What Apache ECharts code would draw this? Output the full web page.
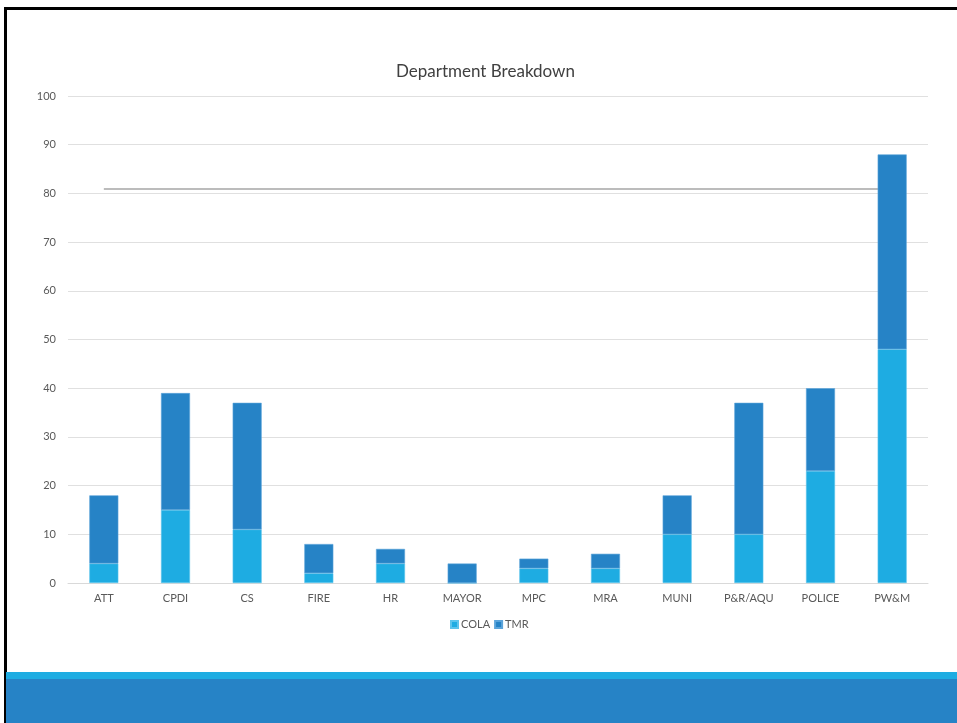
<!DOCTYPE html>
<html><head><meta charset="utf-8">
<script src="https://cdn.jsdelivr.net/npm/echarts@6/dist/echarts.min.js"></script>
<style>
html,body{margin:0;padding:0;width:957px;height:723px;overflow:hidden;background:#fff;}
#frame{position:absolute;left:4px;top:7px;width:960px;height:730px;border-left:3px solid #000;border-top:3px solid #000;box-sizing:border-box;}
#band1{position:absolute;left:6px;top:672px;width:951px;height:7px;background:#1EACE2;}
#band2{position:absolute;left:6px;top:679px;width:951px;height:44px;background:#2683C6;}
#chart{position:absolute;left:0;top:0;width:957px;height:723px;}
</style></head>
<body>
<div id="chart"></div>
<div id="frame"></div>
<div id="band1"></div>
<div id="band2"></div>
<script>
const categories = ['ATT','CPDI','CS','FIRE','HR','MAYOR','MPC','MRA','MUNI','P&R/AQU','POLICE','PW&M'];
const cola = [4,15,11,2,4,0,3,3,10,10,23,48];
const tmr = [14,24,26,6,3,4,2,3,8,27,17,40];
const refValue = 81;
const yTicks = {min:0,max:100,interval:10};

const chart = echarts.init(document.getElementById('chart'));
const font = 'Lato, "Open Sans", sans-serif';
chart.setOption({
  animation:false,
  title:{text:'Department Breakdown',left:391,top:58,textStyle:{fontFamily:font,fontSize:17,fontWeight:'normal',color:'#404040'}},
  legend:{data:['COLA','TMR'],bottom:88,left:445,itemWidth:7,itemHeight:7,itemGap:4,icon:'rect',textStyle:{fontFamily:font,fontSize:11,color:'#595959',padding:[0,0,0,-2]}},
  grid:{left:68,right:29,top:96,bottom:140,containLabel:false},
  xAxis:{type:'category',data:categories,axisTick:{show:false},axisLine:{lineStyle:{color:'#D9D9D9'}},
    axisLabel:{fontFamily:font,fontSize:11,color:'#595959',margin:10}},
  yAxis:{type:'value',min:yTicks.min,max:yTicks.max,interval:yTicks.interval,axisLine:{show:false},axisTick:{show:false},
    splitLine:{lineStyle:{color:'#E0E0E0'}},axisLabel:{fontFamily:font,fontSize:11,color:'#595959',margin:12}},
  series:[
    {name:'COLA',type:'bar',stack:'a',data:cola,barWidth:29,z:3,itemStyle:{color:'#1EACE2',borderColor:'#5CC4EC',borderWidth:0.6},
     markLine:{symbol:'none',silent:true,z:1,label:{show:false},lineStyle:{color:'#A6A6A6',width:1.5,type:'solid'},
       data:[[{coord:[categories[0],refValue]},{coord:[categories[categories.length-1],refValue]}]]}},
    {name:'TMR',type:'bar',stack:'a',data:tmr,barWidth:29,z:3,itemStyle:{color:'#2683C6',borderColor:'#5CA4DA',borderWidth:0.6}}
  ]
});
</script>
</body></html>
